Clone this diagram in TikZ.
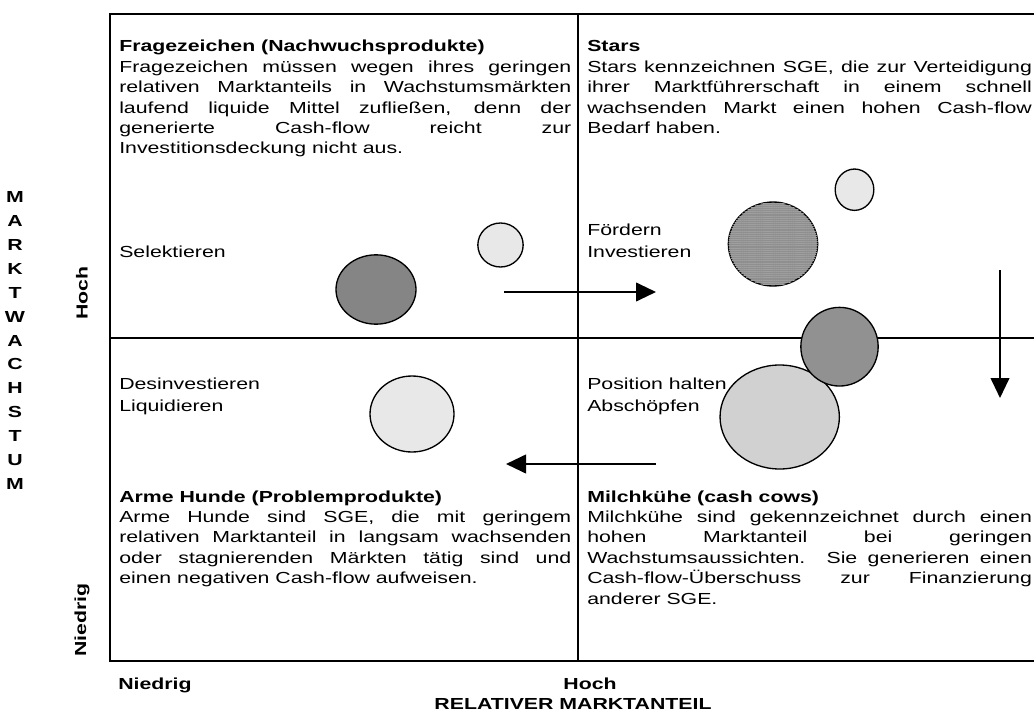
\documentclass[tikz,border=0pt]{standalone}
\usepackage{fontspec}
\setmainfont{Liberation Sans}[FakeStretch=1.33]
\usetikzlibrary{arrows.meta,shapes.geometric,patterns.meta}
\definecolor{dunkel}{gray}{0.52}
\definecolor{mittel}{gray}{0.82}
\definecolor{hell}{gray}{0.91}
\tikzset{
  schrift/.style={font=\fontsize{12}{15.3}\selectfont},
  feld/.style={schrift, anchor=base west, inner sep=0pt},
  fett/.style={font=\fontsize{12}{15.3}\selectfont\bfseries, inner sep=0pt},
  blase/.style={draw, ellipse, line width=1pt, inner sep=0pt},
  pfeil/.style={-{Triangle[length=15pt,width=14pt]}, line width=1.5pt},
}
\newcommand{\quadtext}[3]{\parbox[t]{#1}{\hyphenpenalty=10000\textbf{#2}\\#3}}
\begin{document}
\begin{tikzpicture}[x=0.75pt,y=-0.75pt]
\useasboundingbox (0,0) rectangle (1034,713);
\clip (0,0) rectangle (1034,713);
%Rahmen
\draw[line width=1.5pt] (110,14) rectangle (1047,661);
\draw[line width=1.5pt] (578,14) -- (578,661);
\draw[line width=1.5pt] (110,338) -- (1047,338);
%Feld oben links
\node[feld] (frage) at (119,52) {\quadtext{339pt}{Fragezeichen (Nachwuchsprodukte)}{Fragezeichen müssen wegen ihres geringen\linebreak
relativen Marktanteils in Wachstumsmärkten\linebreak
laufend liquide Mittel zufließen, denn der\linebreak
generierte Cash-flow reicht zur\linebreak
Investitionsdeckung nicht aus.}};
%Feld oben rechts
\node[feld] (stars) at (587,52) {\quadtext{333.5pt}{Stars}{Stars kennzeichnen SGE, die zur Verteidigung\linebreak
ihrer Marktführerschaft in einem schnell\linebreak
wachsenden Markt einen hohen Cash-flow\linebreak
Bedarf haben.}};
%Feld unten links
\node[feld] (hunde) at (119,502) {\quadtext{339pt}{Arme Hunde (Problemprodukte)}{Arme Hunde sind SGE, die mit geringem\linebreak
relativen Marktanteil in langsam wachsenden\linebreak
oder stagnierenden Märkten tätig sind und\linebreak
einen negativen Cash-flow aufweisen.}};
%Feld unten rechts
\node[feld] (kuehe) at (587,502) {\quadtext{333.5pt}{Milchkühe (cash cows)}{Milchkühe sind gekennzeichnet durch einen\linebreak
hohen Marktanteil bei geringen\linebreak
Wachstumsaussichten. Sie generieren einen\linebreak
Cash-flow-Überschuss zur Finanzierung\linebreak
anderer SGE.}};
%Strategien
\node[feld] (selekt) at (119,257) {Selektieren};
\node[feld, font=\fontsize{12}{16.5}\selectfont] (foerdern) at (587,235) {\parbox[t]{5cm}{Fördern\\Investieren}};
\node[feld, font=\fontsize{12}{16.5}\selectfont] (desinv) at (119,389) {\parbox[t]{5cm}{Desinvestieren\\Liquidieren}};
\node[feld, font=\fontsize{12}{16.5}\selectfont] (halten) at (587,389) {\parbox[t]{5cm}{Position halten\\Abschöpfen}};
%Blasen
\node[blase, fill=dunkel, minimum width=60pt, minimum height=52pt] (b1) at (376,289.5) {};
\node[blase, fill=hell, minimum width=34pt, minimum height=33pt] (b2) at (500.5,245) {};
\node[blase, fill=hell, minimum width=29pt, minimum height=31pt] (b3) at (854.5,189.7) {};
\node[blase, fill=gray!88, postaction={pattern={Lines[angle=0,distance=1.6pt,line width=0.45pt]}, pattern color=gray!75}, minimum width=67pt, minimum height=63pt] (b4) at (773,244) {};
\node[blase, fill=mittel, minimum width=89.5pt, minimum height=78pt] (b6) at (779.7,417) {};
\node[blase, fill=dunkel!90!white, minimum width=58pt, minimum height=59pt] (b5) at (839.5,346.7) {};
\node[blase, fill=hell, minimum width=63pt, minimum height=57pt] (b7) at (412,414) {};
%Pfeile
\coordinate (p1a) at (504,292);
\coordinate (p1b) at (656,292);
\coordinate (p2a) at (1000,270);
\coordinate (p2b) at (1000,398);
\coordinate (p3a) at (656,464);
\coordinate (p3b) at (506,464);
\draw[pfeil] (p1a) -- (p1b);
\draw[pfeil] (p2a) -- (p2b);
\draw[pfeil] (p3a) -- (p3b);
%Achsen
\node[fett, align=center, font=\fontsize{12}{17.9}\selectfont\bfseries] (wachstum) at (15,340.5) {M\\A\\R\\K\\T\\W\\A\\C\\H\\S\\T\\U\\M};
\node[fett, rotate=90] (hochY) at (82,293) {Hoch};
\node[fett, rotate=90] (niedrigY) at (82,620) {Niedrig};
\node[fett, anchor=base west] (niedrigX) at (118,689) {Niedrig};
\node[fett, anchor=base] (hochX) at (590,689) {Hoch};
\node[fett, anchor=base] (anteil) at (573,709) {RELATIVER MARKTANTEIL};
\end{tikzpicture}
\end{document}
